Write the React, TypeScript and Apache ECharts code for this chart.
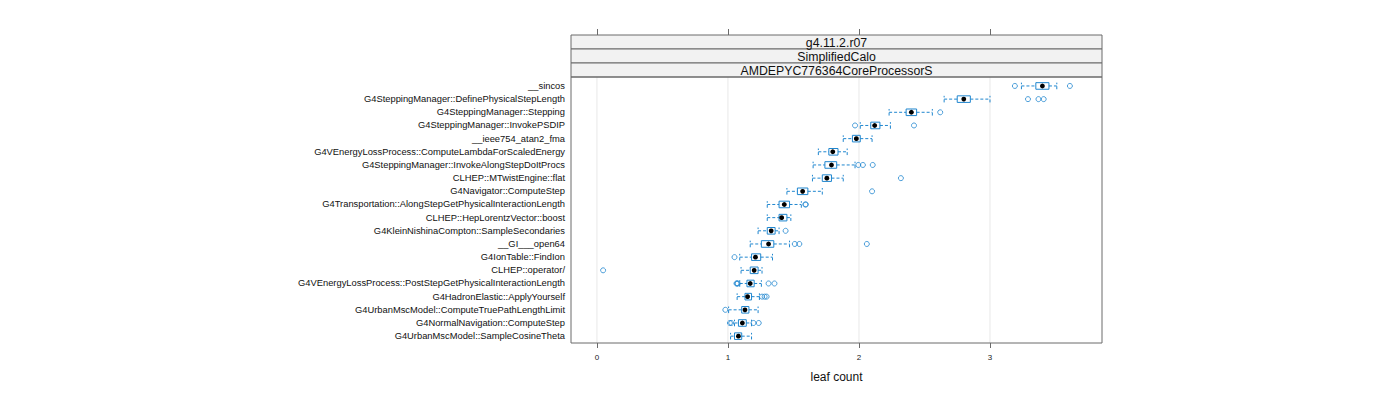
import React, { useEffect, useRef } from "react";
import * as echarts from "echarts";

const categories = [
  "__sincos",
  "G4SteppingManager::DefinePhysicalStepLength",
  "G4SteppingManager::Stepping",
  "G4SteppingManager::InvokePSDIP",
  "__ieee754_atan2_fma",
  "G4VEnergyLossProcess::ComputeLambdaForScaledEnergy",
  "G4SteppingManager::InvokeAlongStepDoItProcs",
  "CLHEP::MTwistEngine::flat",
  "G4Navigator::ComputeStep",
  "G4Transportation::AlongStepGetPhysicalInteractionLength",
  "CLHEP::HepLorentzVector::boost",
  "G4KleinNishinaCompton::SampleSecondaries",
  "__GI___open64",
  "G4IonTable::FindIon",
  "CLHEP::operator/",
  "G4VEnergyLossProcess::PostStepGetPhysicalInteractionLength",
  "G4HadronElastic::ApplyYourself",
  "G4UrbanMscModel::ComputeTruePathLengthLimit",
  "G4NormalNavigation::ComputeStep",
  "G4UrbanMscModel::SampleCosineTheta",
];

const whiskerLow = [3.24, 2.65, 2.23, 2.01, 1.88, 1.69, 1.65, 1.645, 1.45, 1.3, 1.3, 1.23, 1.17, 1.09, 1.1, 1.09, 1.07, 1.005, 1.05, 1.02];
const q1 = [3.35, 2.75, 2.36, 2.09, 1.95, 1.77, 1.74, 1.72, 1.53, 1.39, 1.39, 1.3, 1.255, 1.18, 1.17, 1.145, 1.13, 1.105, 1.08, 1.05];
const median = [3.4, 2.8, 2.4, 2.12, 1.98, 1.8, 1.79, 1.755, 1.57, 1.43, 1.41, 1.33, 1.31, 1.21, 1.2, 1.17, 1.15, 1.13, 1.11, 1.08];
const q3 = [3.45, 2.85, 2.44, 2.16, 2.01, 1.84, 1.83, 1.79, 1.61, 1.47, 1.45, 1.36, 1.35, 1.25, 1.23, 1.2, 1.18, 1.16, 1.14, 1.105];
const whiskerHigh = [3.51, 3.0, 2.56, 2.24, 2.1, 1.91, 1.97, 1.88, 1.72, 1.56, 1.48, 1.39, 1.47, 1.34, 1.26, 1.255, 1.24, 1.23, 1.18, 1.18];

// [row index, value]
const outliers: [number, number][] = [
  [0, 3.19], [0, 3.61],
  [1, 3.29], [1, 3.37], [1, 3.41],
  [2, 2.62],
  [3, 1.97], [3, 2.42],
  [6, 1.995], [6, 2.03], [6, 2.105],
  [7, 2.32],
  [8, 2.1],
  [9, 1.59], [9, 1.595],
  [11, 1.44],
  [12, 1.51], [12, 1.545], [12, 2.06],
  [13, 1.05],
  [14, 0.047],
  [15, 1.065], [15, 1.07], [15, 1.075], [15, 1.31], [15, 1.355],
  [16, 1.26], [16, 1.28], [16, 1.295],
  [17, 0.98],
  [18, 1.015], [18, 1.025], [18, 1.195], [18, 1.235],
];

const xTicks = [0, 1, 2, 3];
const stripLabels = ["g4.11.2.r07", "SimplifiedCalo", "AMDEPYC776364CoreProcessorS"];
const xAxisTitle = "leaf count";

const BLUE = "#1f86cf";
const FRAME = "#6b6b6b";
const FONT = "Liberation Sans, Arial, sans-serif";

const PANEL_L = 571;
const PANEL_R = 1102;
const STRIP_TOP = 35;
const STRIP_H = 14;
const PANEL_TOP = STRIP_TOP + STRIP_H * stripLabels.length;
const PANEL_BOTTOM = 343;
const X_MIN = -0.198;
const X_MAX = 3.855;

export default function App() {
  const ref = useRef<HTMLDivElement>(null);

  useEffect(() => {
    document.body.style.margin = "0";
    if (!ref.current) return;
    const chart = echarts.init(ref.current, undefined, { renderer: "svg" });

    const W = 1400;
    const H = 400;
    const gridOuter = { left: PANEL_L, right: W - PANEL_R, top: STRIP_TOP, bottom: H - PANEL_BOTTOM };
    const gridPanel = { left: PANEL_L, right: W - PANEL_R, top: PANEL_TOP, bottom: H - PANEL_BOTTOM };

    const boxData = categories.map((_, i) => [i, whiskerLow[i], q1[i], median[i], q3[i], whiskerHigh[i]]);

    const strips: any[] = [];
    stripLabels.forEach((label, i) => {
      strips.push({
        type: "rect",
        shape: { x: PANEL_L, y: STRIP_TOP + i * STRIP_H, width: PANEL_R - PANEL_L, height: STRIP_H },
        style: { fill: "#f2f2f2", stroke: FRAME, lineWidth: 1 },
        z: 10,
      });
      strips.push({
        type: "text",
        x: (PANEL_L + PANEL_R) / 2,
        y: STRIP_TOP + i * STRIP_H + STRIP_H / 2 + 0.5,
        style: {
          text: label,
          fill: "#111",
          font: `12.3px ${FONT}`,
          textAlign: "center",
          textVerticalAlign: "middle",
        },
        z: 11,
      });
    });

    const option: any = {
      animation: false,
      backgroundColor: "#fff",
      grid: [gridOuter, gridPanel],
      xAxis: [
        {
          type: "value",
          gridIndex: 0,
          position: "bottom",
          min: X_MIN,
          max: X_MAX,
          axisLine: { show: false },
          splitLine: { show: false },
          axisTick: { show: true, length: 5, customValues: xTicks, lineStyle: { color: FRAME } },
          axisLabel: { show: true, customValues: xTicks, fontSize: 8, color: "#222", margin: 10, fontFamily: FONT },
          name: xAxisTitle,
          nameLocation: "middle",
          nameGap: 28,
          nameTextStyle: { fontSize: 12, color: "#111", fontFamily: FONT },
        },
        {
          type: "value",
          gridIndex: 0,
          position: "top",
          min: X_MIN,
          max: X_MAX,
          axisLine: { show: false },
          splitLine: { show: false },
          axisTick: { show: true, length: 6, customValues: xTicks, lineStyle: { color: FRAME } },
          axisLabel: { show: false },
        },
        {
          type: "value",
          gridIndex: 1,
          min: X_MIN,
          max: X_MAX,
          show: false,
        },
      ],
      yAxis: [
        { type: "value", gridIndex: 0, show: false, min: 0, max: 1 },
        {
          type: "value",
          gridIndex: 1,
          inverse: true,
          min: -0.68,
          max: categories.length - 0.48,
          axisLine: { show: false },
          axisTick: { show: false },
          splitLine: { show: false },
          axisLabel: {
            show: true,
            customValues: categories.map((_, i) => i),
            formatter: (v: number) => categories[Math.round(v)] ?? "",
            fontSize: 9.35,
            color: "#111",
            margin: 6,
            fontFamily: FONT,
          },
        },
      ],
      graphic: [
        ...strips,
        {
          type: "rect",
          shape: { x: PANEL_L, y: PANEL_TOP, width: PANEL_R - PANEL_L, height: PANEL_BOTTOM - PANEL_TOP },
          style: { fill: "none", stroke: FRAME, lineWidth: 1 },
          z: 10,
          silent: true,
        },
      ],
      series: [
        {
          type: "custom",
          xAxisIndex: 2,
          yAxisIndex: 1,
          silent: true,
          z: 1,
          data: xTicks.map((t) => [t]),
          encode: { x: 0 },
          renderItem: (params: any, api: any) => {
            const cs = params.coordSys;
            const x = api.coord([api.value(0), 0])[0];
            return {
              type: "line",
              shape: { x1: x, y1: cs.y, x2: x, y2: cs.y + cs.height },
              style: { stroke: "#e8e8e8", lineWidth: 1 },
            };
          },
        },
        {
          type: "custom",
          xAxisIndex: 2,
          yAxisIndex: 1,
          silent: true,
          z: 3,
          data: boxData,
          encode: { x: [1, 2, 3, 4, 5], y: 0 },
          renderItem: (params: any, api: any) => {
            const row = api.value(0);
            const pLo = api.coord([api.value(1), row]);
            const pQ1 = api.coord([api.value(2), row]);
            const pMed = api.coord([api.value(3), row]);
            const pQ3 = api.coord([api.value(4), row]);
            const pHi = api.coord([api.value(5), row]);
            const y = pMed[1];
            const h = api.size([0, 0.5])[1];
            const dashStyle = { stroke: BLUE, lineWidth: 1, lineDash: [3, 2], fill: "none" };
            return {
              type: "group",
              children: [
                { type: "line", shape: { x1: pLo[0], y1: y, x2: pQ1[0], y2: y }, style: dashStyle },
                { type: "line", shape: { x1: pQ3[0], y1: y, x2: pHi[0], y2: y }, style: dashStyle },
                { type: "line", shape: { x1: pLo[0], y1: y + h / 2, x2: pLo[0], y2: y - h / 2 }, style: dashStyle },
                { type: "line", shape: { x1: pHi[0], y1: y + h / 2, x2: pHi[0], y2: y - h / 2 }, style: dashStyle },
                {
                  type: "rect",
                  shape: { x: pQ1[0], y: y - h / 2, width: pQ3[0] - pQ1[0], height: h },
                  style: { stroke: BLUE, lineWidth: 1, fill: "none" },
                },
                { type: "circle", shape: { cx: pMed[0], cy: y, r: 2.4 }, style: { fill: "#000" } },
              ],
            };
          },
        },
        {
          type: "scatter",
          xAxisIndex: 2,
          yAxisIndex: 1,
          silent: true,
          z: 4,
          symbol: "circle",
          symbolSize: 5,
          itemStyle: { color: "rgba(0,0,0,0)", borderColor: BLUE, borderWidth: 1 },
          data: outliers.map(([r, v]) => [v, r]),
        },
      ],
    };

    chart.setOption(option);
    return () => chart.dispose();
  }, []);

  return <div ref={ref} style={{ width: 1400, height: 400 }} />;
}
